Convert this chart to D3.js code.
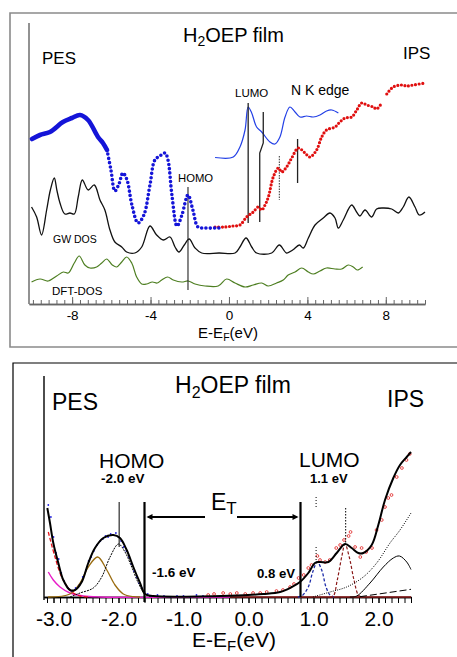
<!DOCTYPE html>
<html>
<head>
<meta charset="utf-8">
<script src="https://cdn.jsdelivr.net/npm/d3@7"></script>
<style>
  body { margin: 0; background: #fff; }
  svg { display: block; font-family: "Liberation Sans", Arial, sans-serif; }
</style>
</head>
<body>
<div id="chart"></div>
<script>
/*
    Data. Energies in eV (E - E_F), intensities in arbitrary units.
*/

// ---- upper panel ----
// PES (blue), dense part and the part drawn as separate dots
var pesDense = [[-10.05,165],[-9.64,169],[-9.13,172],[-8.47,182],[-8.01,186],[-7.6,189],[-7.19,184],
    [-6.68,167],[-6.43,161],[-6.22,154]];
var pesDots = [[-6.22,154],[-6.02,134],[-5.82,113],[-5.61,120],[-5.41,131],[-5.2,124],[-4.95,99],
    [-4.64,81],[-4.34,89],[-4.03,119],[-3.78,144],[-3.52,148],[-3.26,151],[-3.11,144],[-2.91,109],
    [-2.65,78],[-2.4,89],[-2.09,109],[-1.84,94],[-1.58,77],[-1.22,76],[-0.71,76],[-0.35,76]];
// IPS (red), null = gap in the data
var ipsDots = [[-0.71,77],[-0.2,77],[0.2,78],[0.56,79],[0.9,87],[1.24,92],[1.49,97],[1.67,94],
    [1.84,99],[2.01,107],[2.26,127],[2.52,136],[2.69,132],[2.94,137],[3.2,146],[3.54,156],[3.88,151],
    [4.13,147],[4.47,154],[4.73,167],[4.98,174],[5.41,177],[5.66,182],[5.92,186],[6.26,187],[6.52,194],
    [6.77,201],[7.03,199],[7.36,197],[7.53,195],[7.79,201],null,[8.05,210],[8.38,217],[8.81,219],
    [9.07,218],[9.4,219],[10.0,221]];
// N K edge absorption (thin blue)
var nkEdge = [[-0.71,146.5],[0.22,147],[0.56,157],[0.82,174],[0.98,197],[1.16,191],[1.41,177],
    [1.67,172],[2.09,162],[2.35,160],[2.6,167],[2.86,187],[3.11,197],[3.37,192],[3.62,187],[3.96,188],
    [4.3,187],[4.64,189],[4.98,193],[5.24,194],[5.58,191]];
// GW DOS (black)
var gwDos = [[-10.07,97],[-9.81,87],[-9.56,69],[-9.3,94],[-9.11,114],[-8.91,126],[-8.78,114],
    [-8.62,101],[-8.37,90],[-8.11,91],[-7.89,90],[-7.69,107],[-7.48,124],[-7.18,114],[-6.87,119],
    [-6.58,104],[-6.33,94],[-6.07,74],[-5.82,62],[-5.47,57],[-5.22,52],[-4.8,51],[-4.45,57],[-4.03,78],
    [-3.69,69],[-3.35,64],[-3.01,67],[-2.75,57],[-2.55,52],[-2.28,59],[-2.03,65],[-1.73,56],[-1.39,51],
    [-0.5,51],[0.31,51],[0.56,57],[0.87,66],[1.16,57],[1.41,51],[2.18,51],[2.57,59],[2.94,51],[3.25,54],
    [3.59,59],[3.79,56],[4.05,66],[4.39,79],[4.81,86],[5.15,91],[5.41,86],[5.58,76],[5.83,84],[6.26,99],
    [6.51,92],[6.68,88],[6.94,94],[7.28,87],[7.53,95],[7.87,96],[8.3,95],[8.64,91],[8.89,97],[9.18,107],
    [9.49,97],[9.71,89],[10.0,92]];
// DFT DOS (green)
var dftDos = [[-10.07,22],[-9.64,25],[-9.22,23],[-8.79,28],[-8.45,32],[-8.2,31],[-7.89,41],[-7.64,48],
    [-7.35,39],[-7.09,36],[-6.75,37],[-6.49,41],[-6.24,45],[-5.95,39],[-5.73,37],[-5.47,42],[-5.22,47],
    [-4.96,41],[-4.71,27],[-4.45,20],[-4.2,20],[-3.91,22],[-3.66,21],[-3.43,24],[-3.13,27],[-2.84,24],
    [-2.41,22],[-2.08,23],[-1.73,20],[-1.22,18],[-0.55,18],[-0.12,25],[0.31,21],[0.82,17],[1.24,19],
    [1.67,21],[2.0,18],[2.43,21],[2.77,24],[3.02,29],[3.37,32],[3.71,36],[4.05,32],[4.3,30],[4.64,33],
    [4.98,36],[5.41,35],[5.75,35],[6.09,39],[6.34,37],[6.54,34],[6.82,37]];
// marker lines [energy, intensity] pairs
var homoTop = [[-2.09,117],[-2.09,14]];
var lumoTop = [[0.98,201],[0.98,81]];
var lumo2Top = [[1.75,192],[1.75,161],[1.57,151],[1.57,82]];
var dotMarkTop = [[2.57,148],[2.57,104]];
var markTop = [[3.5,165],[3.5,121]];
var topMajorTicks = [-8, -4, 0, 4, 8];

// ---- lower panel ----
var pesData = [[-3.08,92],[-3.04,80],[-3.0,60],[-2.96,44],[-2.92,38],[-2.88,24],[-2.84,16],[-2.78,9],
    [-2.72,6],[-2.66,9],[-2.6,12],[-2.55,20],[-2.5,27],[-2.46,36],[-2.42,40],[-2.38,46],[-2.33,52],
    [-2.28,56],[-2.24,58],[-2.2,61],[-2.16,60],[-2.12,63],[-2.08,62],[-2.04,64],[-2.0,60],[-1.96,56],
    [-1.92,50],[-1.88,46],[-1.84,40],[-1.8,33],[-1.76,26],[-1.72,20],[-1.68,14],[-1.64,9],[-1.6,5],
    [-1.55,3],[-1.5,1],[-1.4,2],[-1.3,1],[-1.2,0],[-1.1,1],[-1.0,1],[-0.9,0],[-0.8,2],[-0.7,1]];
var ipsData = [[-0.62,2],[-0.53,3],[-0.39,4],[-0.28,3],[-0.18,4],[-0.05,3],[0.07,4],[0.18,4],[0.28,5],
    [0.43,6],[0.53,7],[0.64,10],[0.7,13],[0.77,19],[0.85,22],[0.92,29],[0.97,32],[1.06,41],[1.1,37],
    [1.18,35],[1.25,37],[1.35,49],[1.41,52],[1.47,57],[1.54,61],[1.57,65],[1.64,50],[1.72,40],[1.74,49],
    [1.81,45],[1.9,49],[1.97,67],[2.05,77],[2.1,90],[2.15,99],[2.2,102],[2.28,120],[2.36,129],
    [2.43,137],[2.48,143]];
var totalFit = [[-3.095,89],[-3.054,74],[-3.003,54],[-2.926,34],[-2.849,17],[-2.746,7],[-2.669,7],
    [-2.566,15],[-2.465,34],[-2.362,49],[-2.234,59],[-2.08,62],[-1.977,59],[-1.874,47],[-1.772,30],
    [-1.669,14],[-1.592,3],[-1.465,1],[-0.285,1.3],[0.228,3],[0.485,5],[0.665,10],[0.792,15],[0.92,24],
    [1.023,34],[1.1,35],[1.228,35],[1.357,44],[1.485,53],[1.588,49],[1.689,44],[1.766,44],[1.895,52],
    [1.997,72],[2.1,97],[2.228,119],[2.331,132],[2.434,140],[2.5,145]];
var bgSteep = [[-3.08,65],[-2.977,40],[-2.874,20],[-2.772,9],[-2.695,4],[-2.59,1],[-2.44,0]];
var bgMagenta = [[-3.08,25],[-3.003,17],[-2.9,10],[-2.746,4],[-2.54,1],[-2.28,0],[-0.285,0]];
var compLow = [[-3.085,0],[-2.746,3],[-2.592,14],[-2.465,30],[-2.32,40],[-2.18,27],[-2.054,12],
    [-1.926,3],[-1.77,0.3],[-1.67,0]];
var compHomo = [[-2.746,0],[-2.592,4],[-2.388,9],[-2.258,20],[-2.13,40],[-2.0,53],[-1.9,45],
    [-1.797,30],[-1.695,14],[-1.592,3],[-1.485,0]];
var compLumo = [[0.76,0],[0.82,1],[0.92,10],[0.988,25],[1.058,35],[1.126,27],[1.192,10],[1.254,2],[1.315,0]];
var compL2 = [[1.254,0],[1.305,1],[1.366,17],[1.434,40],[1.485,53],[1.55,40],[1.623,17],[1.69,2],[1.746,0]];
var bgRise = [[0.99,0],[1.254,5],[1.51,10],[1.766,20],[1.972,34],[2.177,54],[2.331,67],[2.5,84]];
var compHigh = [[1.56,0],[1.665,1],[1.87,14],[2.074,30],[2.228,39],[2.323,41],[2.434,35],[2.5,27.5]];
var bgLinear = [[1.715,0.3],[2.5,7.7]];
var ipsBase = [[-0.3,0],[2.5,0]];
var homoBot = [[-1.99,95],[-1.99,50]];
var lumoDot1 = [[1.04,100],[1.04,90]];
var lumoDot2 = [[1.04,50],[1.04,34]];
var lumoDot3 = [[1.495,89],[1.495,54]];
var gapEdges = [-1.6, 0.8];
var gapTop = 95;
var arrowLevel = 80;
var botMajorTicks = [-3, -2, -1, 0, 1, 2];

var width = 457, height = 657;

var svg = d3.select("#chart").append("svg")
    .attr("width", width)
    .attr("height", height);

// frames
svg.append("path").attr("d", "M457,13H10V347H457")
    .attr("fill", "none").attr("stroke", "#8a8a8a").attr("stroke-width", 1.6);
svg.append("path").attr("d", "M457,363H13V657")
    .attr("fill", "none").attr("stroke", "#000").attr("stroke-width", 1.2);

var topX = d3.scaleLinear().domain([-10.2, 10]).range([29, 425]);
var topY = d3.scaleLinear().domain([0, 280]).range([304, 24]);
var botX = d3.scaleLinear().domain([-3.15, 2.5]).range([43.75, 411]);
var botY = d3.scaleLinear().domain([0, 230]).range([597, 367]);

function drawLine(g, data, xs, ys, color, w, dash, curve, cap) {
    var line = d3.line()
        .defined(d => d != null)
        .x(d => xs(d[0]))
        .y(d => ys(d[1]))
        .curve(curve || d3.curveCatmullRom);
    return g.append("path").datum(data)
        .attr("d", line)
        .attr("fill", "none")
        .attr("stroke", color)
        .attr("stroke-width", w)
        .attr("stroke-dasharray", dash || null)
        .attr("stroke-linecap", cap || "butt");
}

function label(g, x, y, txt, size, weight) {
    return g.append("text").attr("x", x).attr("y", y)
        .attr("font-size", size).attr("font-weight", weight || "normal")
        .attr("fill", "#000").text(txt);
}

/* ================= upper panel ================= */
var topG = svg.append("g");

// y axis line
topG.append("line").attr("x1", 29).attr("x2", 29).attr("y1", 23).attr("y2", 304)
    .attr("stroke", "#777").attr("stroke-width", 1.6);

var minorTop = topG.append("g").attr("transform", "translate(0,304)")
    .call(d3.axisBottom(topX).tickValues(d3.range(-10, 10.01, 0.4)).tickSize(-4).tickSizeOuter(0).tickFormat(""));
var majorTop = topG.append("g").attr("transform", "translate(0,304)")
    .call(d3.axisBottom(topX).tickValues(topMajorTicks).tickSize(-7).tickSizeOuter(0)
        .tickPadding(6).tickFormat(d => String(d)));
[minorTop, majorTop].forEach(function(a) {
    a.attr("font-family", null).attr("font-size", 13.5);
    a.selectAll("line").attr("stroke", "#666");
    a.select(".domain").attr("stroke", "#666").attr("stroke-width", 1.4);
    a.selectAll("text").attr("fill", "#000");
});

drawLine(topG, dftDos, topX, topY, "#4e7f22", 1.2);
drawLine(topG, gwDos, topX, topY, "#111", 1.3);
drawLine(topG, nkEdge, topX, topY, "#2340e6", 1.2);

drawLine(topG, homoTop, topX, topY, "#222", 1.1, null, d3.curveLinear);
drawLine(topG, lumoTop, topX, topY, "#222", 1.3, null, d3.curveLinear);
drawLine(topG, lumo2Top, topX, topY, "#222", 1.3, null, d3.curveLinear);
drawLine(topG, dotMarkTop, topX, topY, "#444", 1.1, "1.5 1.2", d3.curveLinear);
drawLine(topG, markTop, topX, topY, "#222", 1.3, null, d3.curveLinear);

drawLine(topG, ipsDots, topX, topY, "#e01010", 3.2, "0 3.6", d3.curveCatmullRom, "round");
drawLine(topG, pesDots, topX, topY, "#1414d8", 3.6, "0 4.3", d3.curveCatmullRom, "round");
drawLine(topG, pesDense, topX, topY, "#1414d8", 4.6, null, d3.curveCatmullRom, "round");

var t1 = topG.append("text").attr("x", 183).attr("y", 42).attr("font-size", 20);
t1.append("tspan").text("H");
t1.append("tspan").attr("font-size", 14).attr("dy", 4).text("2");
t1.append("tspan").attr("dy", -4).text("OEP film");
label(topG, 42, 64, "PES", 17);
label(topG, 403, 59, "IPS", 17);
label(topG, 235, 97, "LUMO", 11.5);
label(topG, 291, 95, "N K edge", 14);
label(topG, 178, 182, "HOMO", 11.3);
label(topG, 53, 243, "GW DOS", 10.5);
label(topG, 52, 295, "DFT-DOS", 11.5);

var xl1 = topG.append("text").attr("x", 228).attr("y", 338).attr("font-size", 15).attr("text-anchor", "middle");
xl1.append("tspan").text("E-E");
xl1.append("tspan").attr("font-size", 10.5).attr("dy", 3).text("F");
xl1.append("tspan").attr("dy", -3).text("(eV)");

/* ================= lower panel ================= */
var botG = svg.append("g");

botG.append("line").attr("x1", 44).attr("x2", 44).attr("y1", 376).attr("y2", 600)
    .attr("stroke", "#000").attr("stroke-width", 1.4);

var minorBot = botG.append("g").attr("transform", "translate(0,597)")
    .call(d3.axisBottom(botX).tickValues(d3.range(-3.1, 2.51, 0.1)).tickSize(6).tickSizeOuter(0).tickFormat(""));
var majorBot = botG.append("g").attr("transform", "translate(0,597)")
    .call(d3.axisBottom(botX).tickValues(botMajorTicks).tickSize(6).tickSizeOuter(0)
        .tickPadding(8).tickFormat(d => d.toFixed(1)));
[minorBot, majorBot].forEach(function(a) {
    a.attr("font-family", null).attr("font-size", 21);
    a.selectAll("line").attr("stroke", "#000");
    a.select(".domain").attr("stroke", "#000").attr("stroke-width", 1.3);
    a.selectAll("text").attr("fill", "#000");
});

drawLine(botG, ipsBase, botX, botY, "#8b1a1a", 1.3, null, d3.curveLinear);
drawLine(botG, bgMagenta, botX, botY, "#e81cc8", 1.4);
drawLine(botG, compLow, botX, botY, "#9a6c10", 1.3);
drawLine(botG, bgSteep, botX, botY, "#e8141c", 1.3, "4 2");
drawLine(botG, compHomo, botX, botY, "#000", 1, "2 1");
drawLine(botG, compLumo, botX, botY, "#1b2aa8", 1.3, "3 2");
drawLine(botG, compL2, botX, botY, "#8b1a1a", 1.2, "3 2");
drawLine(botG, bgRise, botX, botY, "#000", 1, "1 1.3");
drawLine(botG, compHigh, botX, botY, "#000", 1);
drawLine(botG, bgLinear, botX, botY, "#000", 1, "7 3", d3.curveLinear);

botG.selectAll(".pesPt").data(pesData).enter().append("circle")
    .attr("class", "pesPt")
    .attr("cx", d => botX(d[0])).attr("cy", d => botY(d[1])).attr("r", 0.9)
    .attr("fill", "#2020e0");
botG.selectAll(".ipsPt").data(ipsData).enter().append("circle")
    .attr("class", "ipsPt")
    .attr("cx", d => botX(d[0])).attr("cy", d => botY(d[1])).attr("r", 1.4)
    .attr("fill", "none").attr("stroke", "#e02020").attr("stroke-width", 0.8);

drawLine(botG, totalFit, botX, botY, "#000", 2);

// markers
drawLine(botG, homoBot, botX, botY, "#000", 1, null, d3.curveLinear);
drawLine(botG, lumoDot1, botX, botY, "#000", 1, "1 2", d3.curveLinear);
drawLine(botG, lumoDot2, botX, botY, "#000", 1, "1 2", d3.curveLinear);
drawLine(botG, lumoDot3, botX, botY, "#000", 1, "1.5 1.5", d3.curveLinear);

// gap edges and arrows
botG.selectAll(".edge").data(gapEdges).enter().append("line")
    .attr("class", "edge")
    .attr("x1", d => botX(d)).attr("x2", d => botX(d))
    .attr("y1", botY(gapTop)).attr("y2", (d, i) => i == 0 ? botY(-5) : botY(0))
    .attr("stroke", "#000").attr("stroke-width", 2.2);

var ay = botY(arrowLevel);
botG.append("line").attr("x1", 205).attr("x2", botX(gapEdges[0]) + 4).attr("y1", ay).attr("y2", ay)
    .attr("stroke", "#000").attr("stroke-width", 2);
botG.append("line").attr("x1", 237).attr("x2", botX(gapEdges[1]) - 4).attr("y1", ay).attr("y2", ay)
    .attr("stroke", "#000").attr("stroke-width", 2);
botG.append("path")
    .attr("d", "M" + (botX(gapEdges[0]) + 2) + "," + ay + "l6,-3v6z")
    .attr("fill", "#000");
botG.append("path")
    .attr("d", "M" + (botX(gapEdges[1]) - 2) + "," + ay + "l-6,-3v6z")
    .attr("fill", "#000");

var t2 = botG.append("text").attr("x", 175).attr("y", 393).attr("font-size", 23);
t2.append("tspan").text("H");
t2.append("tspan").attr("font-size", 16).attr("dy", 5).text("2");
t2.append("tspan").attr("dy", -5).text("OEP film");
label(botG, 52, 410, "PES", 23);
label(botG, 387, 407, "IPS", 23);
label(botG, 99, 468, "HOMO", 21);
label(botG, 101, 483, "-2.0 eV", 13.5, "bold");
label(botG, 299, 467, "LUMO", 21);
label(botG, 310, 483, "1.1 eV", 13, "bold");
label(botG, 152, 577, "-1.6 eV", 13.5, "bold");
label(botG, 257, 578, "0.8 eV", 13.2, "bold");

var et = botG.append("text").attr("x", 211).attr("y", 510).attr("font-size", 23);
et.append("tspan").text("E");
et.append("tspan").attr("font-size", 17).attr("dy", 4).text("T");

var xl2 = botG.append("text").attr("x", 234).attr("y", 647).attr("font-size", 21).attr("text-anchor", "middle");
xl2.append("tspan").text("E-E");
xl2.append("tspan").attr("font-size", 15).attr("dy", 4).text("F");
xl2.append("tspan").attr("dy", -4).text("(eV)");
</script>
</body>
</html>
